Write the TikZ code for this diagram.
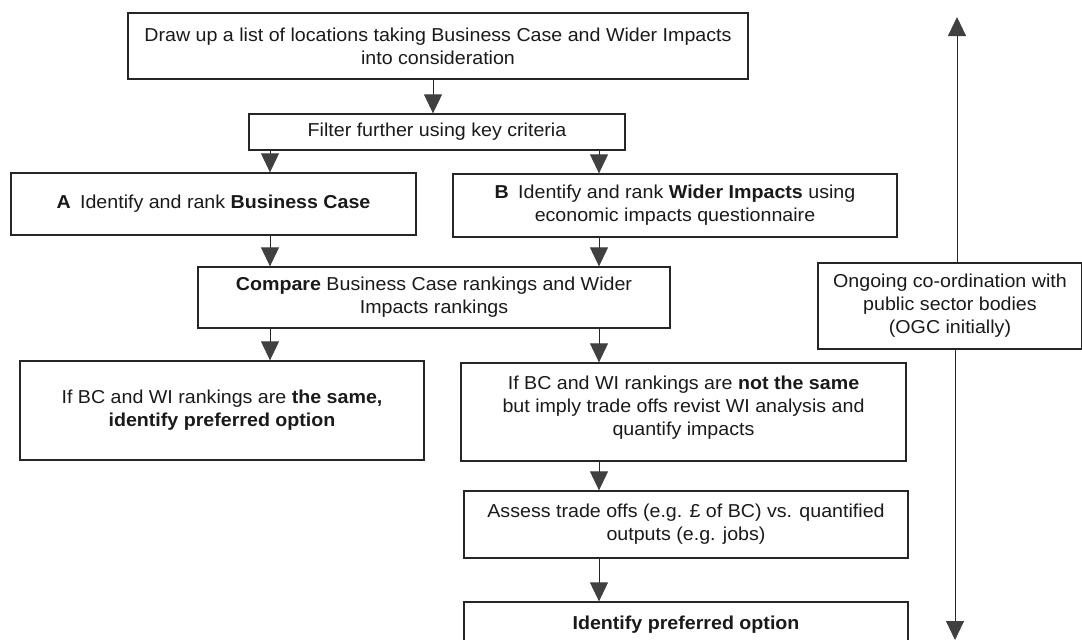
\documentclass[tikz,border=0pt]{standalone}
\usepackage{fontspec}
\setmainfont{Liberation Sans}[FakeStretch=1.05]
\usetikzlibrary{arrows.meta}
\definecolor{boxc}{HTML}{262626}
\definecolor{txtc}{HTML}{1A1A1A}
\definecolor{tipc}{HTML}{404040}
\begin{document}
\begin{tikzpicture}[x=1pt,y=-1pt,
  box/.style={draw=boxc, line width=1.3pt, align=center, inner sep=0pt, text=txtc,
    font=\fontsize{18.7}{23}\selectfont},
  arr/.style={draw=boxc, line width=0.9pt, -{Triangle[width=18pt,length=19pt,fill=tipc,color=tipc]}}]
\useasboundingbox (0,0) rectangle (1082,640);
\clip (0,0) rectangle (1082,640);
\fill[white] (0,0) rectangle (1082,640);
% column coordinates
\coordinate (xm) at (433,0);
\coordinate (xa) at (270,0);
\coordinate (xb) at (599,0);
\coordinate (xu) at (957,0);
\coordinate (xd) at (955,0);
\coordinate (topend) at (957,17);
\coordinate (botend) at (955,640);
% nodes
\node[box, minimum width=620, minimum height=66] (n1) at (438,46)
  {Draw up a list of locations taking Business Case and Wider Impacts\\into consideration};
\node[box, minimum width=376, minimum height=36] (filt) at (437,132)
  {Filter further using key criteria};
\node[box, minimum width=405, minimum height=62] (A) at (213.5,204)
  {\textbf{A}\enspace Identify and rank \textbf{Business Case}};
\node[box, minimum width=444, minimum height=63] (B) at (675,205.5)
  {\textbf{B}\enspace Identify and rank \textbf{Wider Impacts} using\\economic impacts questionnaire};
\node[box, minimum width=472, minimum height=61] (cmp) at (434,297.5)
  {\textbf{Compare} Business Case rankings and Wider\\Impacts rankings};
\node[box, minimum width=404, minimum height=99] (L) at (222,410.5)
  {If BC and WI rankings are \textbf{the same,}\\\textbf{identify preferred option}};
\node[box, minimum width=445, minimum height=98] (R) at (683.5,412)
  {If BC and WI rankings are \textbf{not the same}\\but imply trade offs revist WI analysis and\\quantify impacts\\[-10pt]\mbox{}};
\node[box, minimum width=444, minimum height=67] (as) at (686,524.5)
  {Assess trade offs (e.g. £ of BC) vs. quantified\\outputs (e.g. jobs)};
\node[box, minimum width=444, minimum height=46] (fin) at (686,625)
  {\textbf{Identify preferred option}};
\node[box, minimum width=264, minimum height=86] (ogc) at (950,306)
  {Ongoing co-ordination with\\public sector bodies\\(OGC initially)};
% connectors
\draw[arr] (n1.south -| xm) -- (filt.north -| xm);
\draw[arr] (filt.south -| xa) -- (A.north -| xa);
\draw[arr] (filt.south -| xb) -- (B.north -| xb);
\draw[arr] (A.south -| xa) -- (cmp.north -| xa);
\draw[arr] (B.south -| xb) -- (cmp.north -| xb);
\draw[arr] (cmp.south -| xa) -- (L.north -| xa);
\draw[arr] (cmp.south -| xb) -- (R.north -| xb);
\draw[arr] (R.south -| xb) -- (as.north -| xb);
\draw[arr] (as.south -| xb) -- (fin.north -| xb);
\draw[arr] (ogc.north -| xu) -- (topend);
\draw[arr] (ogc.south -| xd) -- (botend);
\end{tikzpicture}
\end{document}
